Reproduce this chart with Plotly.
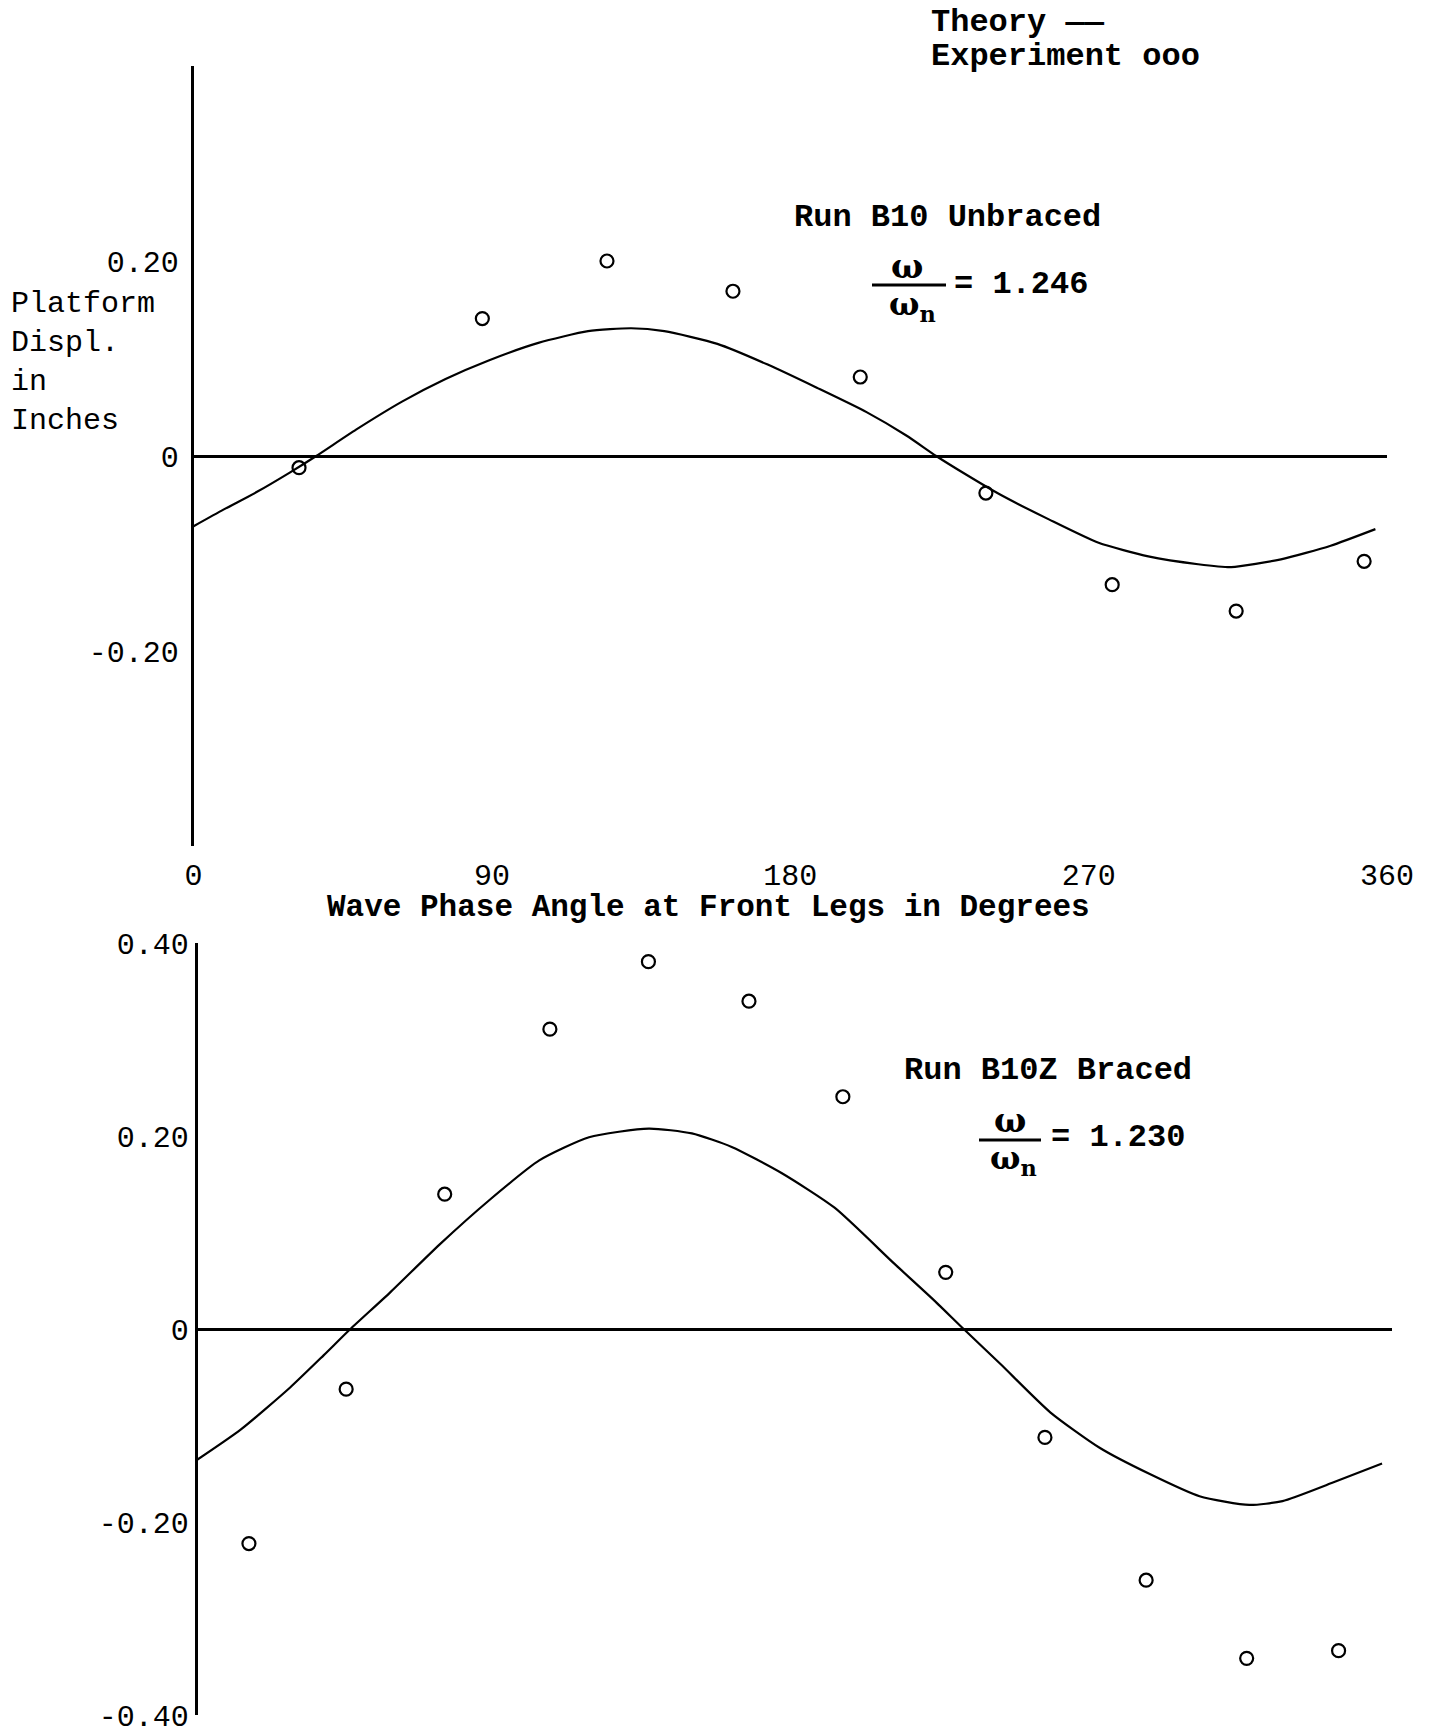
import plotly.graph_objects as go

# ---------------- data ----------------
# Top panel: Run B10 Unbraced
top_theory_deg = [0, 9, 19, 29, 37, 49, 63, 76, 89, 104, 119, 132, 142, 158, 173, 188, 203, 215, 224, 233,
                  243, 258, 273, 288, 303, 313, 328, 343, 356.5]
top_theory_val = [-0.072, -0.055, -0.037, -0.017, 0.0, 0.027, 0.056, 0.079, 0.098, 0.116, 0.128, 0.131, 0.128,
                  0.115, 0.094, 0.070, 0.045, 0.021, 0.0, -0.019, -0.039, -0.065, -0.089, -0.103, -0.111,
                  -0.114, -0.106, -0.092, -0.075]
top_exp_deg = [31.8, 87.1, 124.7, 162.7, 201.1, 239, 277.1, 314.5, 353.1]
top_exp_val = [-0.012, 0.141, 0.200, 0.169, 0.081, -0.038, -0.132, -0.159, -0.108]

# Bottom panel: Run B10Z Braced
bot_theory_deg = [0, 13, 28, 38, 46, 58, 73, 88, 103, 118, 136, 149, 161, 176, 192, 210, 222, 231, 242,
                  257, 272, 287, 302, 317, 327, 342, 357]
bot_theory_val = [-0.135, -0.104, -0.060, -0.027, 0.0, 0.038, 0.088, 0.134, 0.175, 0.199, 0.208, 0.203, 0.189,
                  0.162, 0.126, 0.068, 0.030, 0.0, -0.036, -0.086, -0.123, -0.150, -0.173, -0.182, -0.178,
                  -0.159, -0.139]
bot_exp_deg = [15.5, 44.8, 74.5, 106.2, 135.9, 166.2, 194.5, 225.5, 255.4, 285.9, 316.2, 343.9]
bot_exp_val = [-0.222, -0.062, 0.140, 0.311, 0.381, 0.340, 0.241, 0.059, -0.112, -0.260, -0.341, -0.333]

x_tick_vals = [0, 90, 180, 270, 360]
x_tick_text = ["0", "90", "180", "270", "360"]
top_y_vals = [0.2, 0.0, -0.2]
top_y_text = ["0.20", "0", "-0.20"]
bot_y_vals = [0.4, 0.2, 0.0, -0.2, -0.4]
bot_y_text = ["0.40", "0.20", "0", "-0.20", "-0.40"]

# ---------------- figure ----------------
W, H = 1434, 1735
MONO = "Liberation Mono"

def clamp(v):
    return min(max(v, 0.0), 1.0)

def px(xp):
    return clamp(xp / W)

def py(yp):
    return clamp(1 - yp / H)

fig = go.Figure()

line_style = dict(color="black", width=2.2, shape="spline", smoothing=0.6)
marker_style = dict(symbol="circle-open", size=13, color="black", line=dict(width=2.2, color="black"))

fig.add_trace(go.Scatter(x=top_theory_deg, y=top_theory_val, mode="lines", line=line_style,
                         xaxis="x", yaxis="y", showlegend=False))
fig.add_trace(go.Scatter(x=top_exp_deg, y=top_exp_val, mode="markers", marker=marker_style,
                         xaxis="x", yaxis="y", showlegend=False))
fig.add_trace(go.Scatter(x=bot_theory_deg, y=bot_theory_val, mode="lines", line=line_style,
                         xaxis="x2", yaxis="y2", showlegend=False))
fig.add_trace(go.Scatter(x=bot_exp_deg, y=bot_exp_val, mode="markers", marker=marker_style,
                         xaxis="x2", yaxis="y2", showlegend=False))

tick_font = dict(family=MONO, size=30, color="black")

fig.update_layout(
    width=W, height=H, autosize=False,
    margin=dict(l=0, r=0, t=0, b=0, pad=0, autoexpand=False),
    paper_bgcolor="white", plot_bgcolor="white",
    xaxis=dict(domain=[px(193.6), px(1387)], range=[0, 360], anchor="y", automargin=False,
               showgrid=False, zeroline=False, showline=False,
               tickvals=x_tick_vals, ticktext=x_tick_text, ticks="",
               tickfont=tick_font, ticklabelstandoff=8),
    yaxis=dict(domain=[py(846), py(66)], range=[-0.4, 0.4], anchor="x", automargin=False,
               showgrid=False, zeroline=True, zerolinecolor="black", zerolinewidth=2.5,
               showline=True, linecolor="black", linewidth=2.5,
               tickvals=top_y_vals, ticktext=top_y_text, ticks="",
               tickfont=tick_font, ticklabelstandoff=6),
    xaxis2=dict(domain=[px(197.5), px(1392)], range=[0, 360], anchor="y2", automargin=False,
                showgrid=False, zeroline=False, showline=False, showticklabels=False, ticks=""),
    yaxis2=dict(domain=[py(1715.3), py(943.3)], range=[-0.4, 0.4], anchor="x2", automargin=False,
                showgrid=False, zeroline=True, zerolinecolor="black", zerolinewidth=2.5,
                showline=True, linecolor="black", linewidth=2.5,
                tickvals=bot_y_vals, ticktext=bot_y_text, ticks="",
                tickfont=tick_font, ticklabelstandoff=0, ticklabeloverflow="allow"),
)

ann = []
def add_text(text, x, y, size=32, bold=False, xanchor="left", family=MONO, align="left"):
    if bold:
        text = "<b>" + text + "</b>"
    ann.append(dict(text=text, x=px(x), y=py(y), xref="paper", yref="paper",
                    xanchor=xanchor, yanchor="middle", showarrow=False, align=align,
                    font=dict(family=family, size=size, color="black")))

# Legend-like text
add_text("Theory ——", 929, 22, bold=True)
add_text("Experiment ooo", 929, 56, bold=True)

# Y axis title
add_text("Platform<br>Displ.<br>in<br>Inches", 9, 362, size=30)

# X axis title
add_text("Wave Phase Angle at Front Legs in Degrees", 708, 908, size=31, bold=True, xanchor="center")

# Top run label
add_text("Run B10 Unbraced", 948, 218, bold=True, xanchor="center")
add_text("ω", 907, 266, size=34, bold=True, xanchor="center", family="DejaVu Serif")
add_text("ω<sub>n</sub>", 912, 306, size=32, bold=True, xanchor="center", family="DejaVu Serif")
add_text("= 1.246", 952, 284, size=32, bold=True)

# Bottom run label
add_text("Run B10Z Braced", 1048, 1070, bold=True, xanchor="center")
add_text("ω", 1010, 1120, size=34, bold=True, xanchor="center", family="DejaVu Serif")
add_text("ω<sub>n</sub>", 1013, 1160, size=32, bold=True, xanchor="center", family="DejaVu Serif")
add_text("= 1.230", 1049, 1137, size=32, bold=True)

fig.update_layout(annotations=ann)

# fraction bars
fig.add_shape(type="line", xref="paper", yref="paper", x0=px(872), x1=px(946), y0=py(285), y1=py(285),
              line=dict(color="black", width=3))
fig.add_shape(type="line", xref="paper", yref="paper", x0=px(979), x1=px(1041), y0=py(1140), y1=py(1140),
              line=dict(color="black", width=3))

fig.write_html("out.html", config={"responsive": False})
